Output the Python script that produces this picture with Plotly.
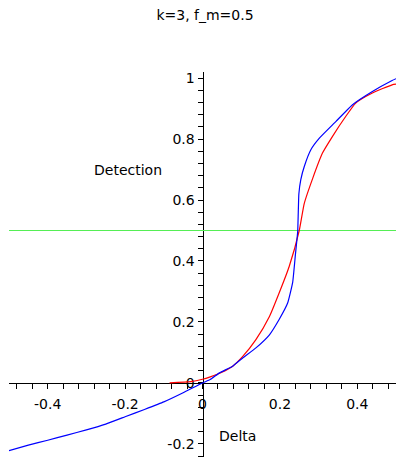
import plotly.graph_objects as go

# Blue curve
blue_x = [-0.5, -0.45, -0.4, -0.35, -0.3, -0.25, -0.2, -0.15, -0.1, -0.05, 0.0,
          0.02, 0.044, 0.078, 0.104, 0.138, 0.173, 0.198, 0.220, 0.233, 0.240,
          0.246, 0.2475, 0.249, 0.254, 0.263, 0.280, 0.302, 0.345, 0.387, 0.439, 0.490, 0.5]
blue_y = [-0.222, -0.204, -0.188, -0.171, -0.154, -0.135, -0.111, -0.087, -0.062, -0.032, 0.0,
          0.011, 0.033, 0.055, 0.082, 0.115, 0.158, 0.208, 0.262, 0.330, 0.420,
          0.497, 0.560, 0.620, 0.667, 0.710, 0.765, 0.803, 0.858, 0.912, 0.956, 0.992, 0.998]

# Red curve
red_x = [-0.085, -0.03, 0.0, 0.02, 0.05, 0.078, 0.104, 0.138, 0.173, 0.198, 0.224,
         0.25, 0.263, 0.285, 0.310, 0.336, 0.370, 0.396, 0.439, 0.490, 0.5]
red_y = [0.0, 0.004, 0.012, 0.02, 0.035, 0.055, 0.087, 0.142, 0.218, 0.295, 0.382,
         0.5, 0.589, 0.672, 0.754, 0.809, 0.874, 0.918, 0.951, 0.978, 0.98]

# Green reference line
green_x = [-0.5, 0.5]
green_y = [0.5, 0.5]

x_ticks = [-0.4, -0.2, 0, 0.2, 0.4]
x_tick_labels = ["-0.4", "-0.2", "0", "0.2", "0.4"]
y_ticks = [-0.2, 0, 0.2, 0.4, 0.6, 0.8, 1]
y_tick_labels = ["-0.2", "0", "0.2", "0.4", "0.6", "0.8", "1"]

title_text = "k=3, f_m=0.5"
x_label = "Delta"
y_label = "Detection"

FONT = "DejaVu Sans"
W, H = 396, 460
L, R, T, B = 9, 0, 72, 3
yr = [-0.243, 1.02]
xr = [-0.5, 0.5]

fig = go.Figure()
fig.add_trace(go.Scatter(x=green_x, y=green_y, mode="lines",
                         line=dict(color="#55ee55", width=1.2), hoverinfo="skip"))
fig.add_trace(go.Scatter(x=red_x, y=red_y, mode="lines",
                         line=dict(color="#ff0000", width=1.2, shape="spline", smoothing=0.5),
                         hoverinfo="skip"))
fig.add_trace(go.Scatter(x=blue_x, y=blue_y, mode="lines",
                         line=dict(color="#0000ff", width=1.2, shape="spline", smoothing=0.4),
                         hoverinfo="skip"))

x_pos = (0 - yr[0]) / (yr[1] - yr[0])
y_pos = (0 - xr[0]) / (xr[1] - xr[0])

fig.update_layout(
    width=W, height=H,
    margin=dict(l=L, r=R, t=T, b=B, pad=0),
    paper_bgcolor="white", plot_bgcolor="white",
    showlegend=False,
    font=dict(family=FONT, size=14, color="#000000"),
    title=dict(text=title_text, x=205 / W, y=1 - 15.5 / H, xanchor="center",
               yanchor="middle", xref="container", yref="container",
               font=dict(family=FONT, size=14, color="#000000")),
    xaxis=dict(range=xr, anchor="free", position=x_pos, showgrid=False, zeroline=False,
               showline=True, linecolor="black", linewidth=1,
               ticks="outside", ticklen=5, tickcolor="black", tickwidth=1,
               tickmode="array", tickvals=x_ticks, ticktext=x_tick_labels,
               ticklabelstandoff=3,
               minor=dict(dtick=0.04, tick0=0, ticks="outside", ticklen=5,
                          tickcolor="black", tickwidth=1, showgrid=False),
               tickfont=dict(family=FONT, size=14, color="#000000"),
               layer="below traces", fixedrange=True),
    yaxis=dict(range=yr, anchor="free", position=y_pos, showgrid=False, zeroline=False,
               showline=True, linecolor="black", linewidth=1,
               ticks="outside", ticklen=5, tickcolor="black", tickwidth=1,
               tickmode="array", tickvals=y_ticks, ticktext=y_tick_labels,
               minor=dict(dtick=0.04, tick0=0, ticks="outside", ticklen=5,
                          tickcolor="black", tickwidth=1, showgrid=False),
               tickfont=dict(family=FONT, size=14, color="#000000"),
               layer="below traces", fixedrange=True),
)

pw = W - L - R
ph = H - T - B
fig.add_annotation(text=y_label, xref="paper", yref="paper",
                   x=(127.5 - L) / pw, y=(H - B - 170) / ph,
                   showarrow=False, xanchor="center", yanchor="middle",
                   font=dict(family=FONT, size=14, color="#000000"))
fig.add_annotation(text=x_label, xref="paper", yref="paper",
                   x=(237 - L) / pw, y=(H - B - 436) / ph,
                   showarrow=False, xanchor="center", yanchor="middle",
                   font=dict(family=FONT, size=14, color="#000000"))

fig.write_html("out.html", config={"displayModeBar": False},
               post_script="document.body.style.margin='0';document.body.style.overflow='hidden';")
